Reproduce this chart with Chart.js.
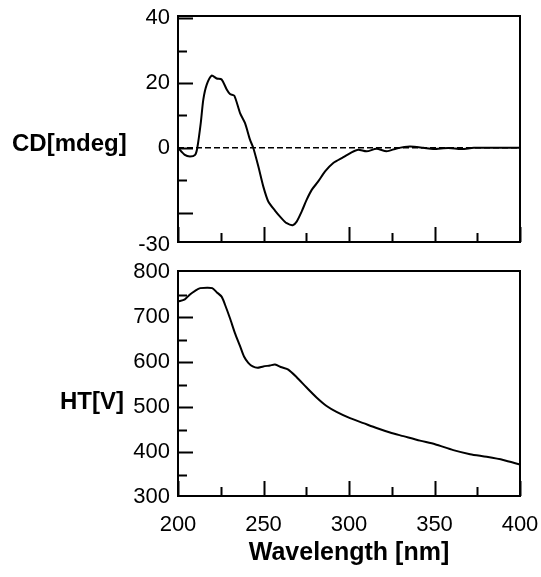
<!DOCTYPE html>
<html>
<head>
<meta charset="utf-8">
<script src="https://cdn.jsdelivr.net/npm/chart.js@4.4.1/dist/chart.umd.min.js"></script>
<style>
  body { margin:0; background:#fff; width:541px; height:577px; position:relative; overflow:hidden; font-family:"Liberation Sans", Arial, sans-serif; }
  .box { position:absolute; left:0; width:541px; }
  #topBox { top:0; height:262px; }
  #botBox { top:262px; height:315px; }
  .ytitle { position:absolute; font-weight:bold; font-size:24px; line-height:24px; color:#000; white-space:nowrap; }
</style>
</head>
<body>
<div id="topBox" class="box"><canvas id="cdChart"></canvas></div>
<div id="botBox" class="box"><canvas id="htChart"></canvas></div>
<div class="ytitle" style="left:12px;top:131px">CD[mdeg]</div>
<div class="ytitle" style="left:60px;top:389px">HT[V]</div>
<script>
// CD spectrum
var cdWavelength = [200, 204, 207, 210, 211.3, 213.3, 214.8, 216.8, 219.7, 222.6, 225.5, 228.5, 230.4, 232.9, 236.3, 239.2, 242.1, 244, 247, 249.9, 252.8, 256.7, 260.6, 263.6, 267.1, 269.4, 272.3, 275.2, 278.2, 282, 286, 290.8, 296.7, 301.5, 305.4, 310.3, 316.1, 322, 327.8, 335.6, 343.4, 349.2, 358, 365.8, 373, 385, 400];
var cdValues = [0, -2.2, -2.7, -2.2, 0, 7.6, 14.9, 19.5, 22.3, 21.4, 21.1, 18, 16.6, 16.1, 10.7, 7.6, 2.5, 0, -5.8, -12, -16.6, -19.4, -21.8, -23.3, -23.9, -22.8, -19.7, -16.1, -13, -10.4, -7.3, -4.7, -2.9, -1.4, -0.6, -1.1, -0.3, -1.1, -0.2, 0.4, 0, -0.4, -0.1, -0.4, 0, 0, 0];

// HT voltage
var htWavelength = [200, 204, 207, 210, 213, 217, 220, 222.6, 225.5, 227.5, 230.4, 233.3, 236.3, 238.6, 241.1, 243.7, 246.4, 249.9, 253.8, 256.7, 260.6, 264.5, 269.4, 275.2, 281, 286.9, 292.7, 300.6, 308.4, 316.1, 324, 331.8, 341.5, 350.3, 361, 370.8, 380.5, 390.2, 400];
var htValues = [735, 740, 751, 759, 765, 766, 765, 756, 746, 728, 698, 665, 636, 613, 599, 591, 588, 591, 593, 595, 589, 584, 567, 544, 522, 503, 490, 476, 465, 454, 444, 436, 426, 418, 405, 396, 390, 383, 373];

// tick marks and the labels actually printed
var xTicks = [200, 225, 250, 275, 300, 325, 350, 375, 400];
var xTickLabels = [200, 250, 300, 350, 400];
var cdTicks = [-30, -20, -10, 0, 10, 20, 30, 40];
var cdTickLabels = [40, 20, 0, -30];
var htTicks = [300, 350, 400, 450, 500, 550, 600, 650, 700, 750, 800];
var htTickLabels = [300, 400, 500, 600, 700, 800];

var tickFont = { family: "'Liberation Sans', Arial, sans-serif", size: 22 };

function toPoints(xs, ys) {
    return xs.map(function(x, i) { return { x: x, y: ys[i] }; });
}

function setTicks(list) {
    return function(s) { s.ticks = list.map(function(v) { return { value: v }; }); };
}

// keep plot area fixed: no extra room for overhanging labels
function fitY(s) { s.width = 178; s.paddingTop = 0; s.paddingBottom = 0; }

// box around plot + inward tick marks
var framePlugin = {
    id: 'frame',
    afterDatasetsDraw: function(chart, args, opts) {
        var a = chart.chartArea, ctx = chart.ctx;
        var xs = chart.scales.x, ys = chart.scales.y;
        ctx.save();
        ctx.strokeStyle = '#000';
        ctx.lineWidth = 2;
        ctx.beginPath();
        xs.ticks.forEach(function(t) {
            var px = Math.round(xs.getPixelForValue(t.value)) + 0.5;
            var len = t.value % 50 === 0 ? 15 : 9;
            ctx.moveTo(px, a.bottom);
            ctx.lineTo(px, a.bottom - len);
        });
        ys.ticks.forEach(function(t) {
            var py = Math.round(ys.getPixelForValue(t.value)) + 0.5;
            if (py < a.top + 2 || py > a.bottom - 2) return;
            var len = t.value % opts.yMajor === 0 ? 15 : 9;
            ctx.moveTo(a.left, py);
            ctx.lineTo(a.left + len, py);
        });
        ctx.stroke();
        ctx.strokeRect(a.left, a.top, a.right - a.left, a.bottom - a.top);
        ctx.restore();
    }
};

Chart.register(framePlugin);

var ctxCD = document.getElementById('cdChart').getContext('2d');
var cdChart = new Chart(ctxCD, {
    type: 'line',
    data: {
        datasets: [
            {
                data: toPoints([200, 400], [0, 0]),
                borderColor: '#000',
                borderWidth: 1.5,
                borderDash: [6, 3],
                pointRadius: 0
            },
            {
                data: toPoints(cdWavelength, cdValues),
                borderColor: '#000',
                borderWidth: 2,
                pointRadius: 0,
                tension: 0.25
            }
        ]
    },
    options: {
        responsive: true,
        maintainAspectRatio: false,
        animation: false,
        layout: { padding: { left: 0, right: 21, top: 16, bottom: 0 } },
        plugins: { legend: { display: false }, tooltip: { enabled: false }, frame: { yMajor: 20 } },
        scales: {
            x: {
                type: 'linear', min: 200, max: 400,
                grid: { display: false, drawTicks: false },
                border: { display: false },
                ticks: { display: false },
                afterBuildTicks: setTicks(xTicks),
                afterFit: function(s) { s.height = 20; s.paddingLeft = 0; s.paddingRight = 0; }
            },
            y: {
                min: -29.1, max: 40.7,
                grid: { display: false, drawTicks: false },
                border: { display: false },
                ticks: {
                    autoSkip: false, padding: 8, color: '#000', font: tickFont,
                    callback: function(v) { return cdTickLabels.indexOf(v) >= 0 ? String(v) : ''; }
                },
                afterBuildTicks: setTicks(cdTicks),
                afterFit: fitY
            }
        }
    }
});

var ctxHT = document.getElementById('htChart').getContext('2d');
var htChart = new Chart(ctxHT, {
    type: 'line',
    data: {
        datasets: [{
            data: toPoints(htWavelength, htValues),
            borderColor: '#000',
            borderWidth: 2,
            pointRadius: 0,
            tension: 0.25
        }]
    },
    options: {
        responsive: true,
        maintainAspectRatio: false,
        animation: false,
        layout: { padding: { left: 0, right: 21, top: 9, bottom: 0 } },
        plugins: { legend: { display: false }, tooltip: { enabled: false }, frame: { yMajor: 100 } },
        scales: {
            x: {
                type: 'linear', min: 200, max: 400,
                grid: { display: false, drawTicks: false },
                border: { display: false },
                ticks: {
                    autoSkip: false, maxRotation: 0, padding: 16, color: '#000', font: tickFont,
                    callback: function(v) { return xTickLabels.indexOf(v) >= 0 ? String(v) : ''; }
                },
                title: {
                    display: true, text: 'Wavelength [nm]', color: '#000',
                    font: { family: "'Liberation Sans', Arial, sans-serif", size: 25, weight: 'bold' },
                    padding: { top: 0, bottom: 9 }
                },
                afterBuildTicks: setTicks(xTicks),
                afterFit: function(s) { s.height = 81; s.paddingLeft = 0; s.paddingRight = 0; }
            },
            y: {
                min: 303, max: 803,
                grid: { display: false, drawTicks: false },
                border: { display: false },
                ticks: {
                    autoSkip: false, padding: 8, color: '#000', font: tickFont,
                    callback: function(v) { return htTickLabels.indexOf(v) >= 0 ? String(v) : ''; }
                },
                afterBuildTicks: setTicks(htTicks),
                afterFit: fitY
            }
        }
    }
});
</script>
</body>
</html>
